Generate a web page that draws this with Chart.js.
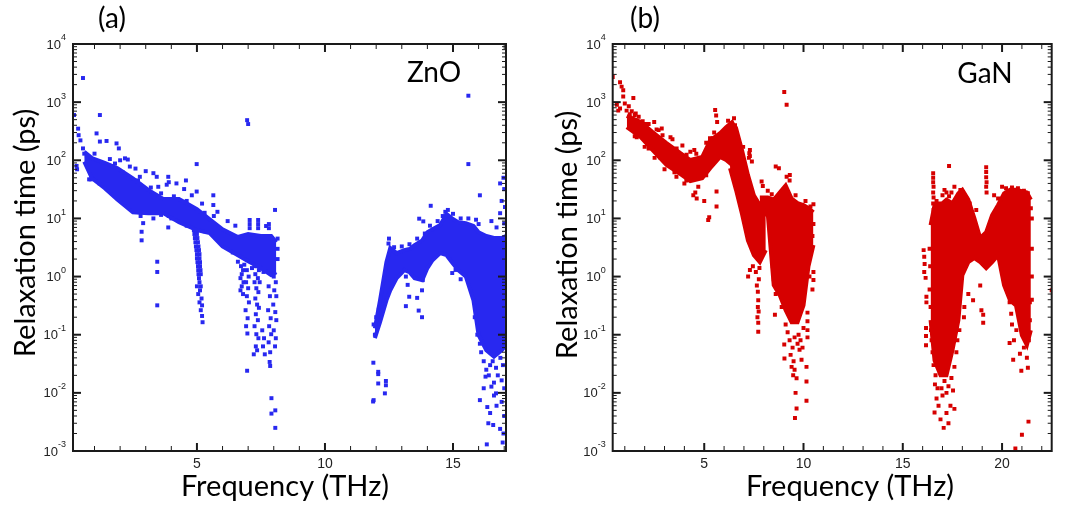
<!DOCTYPE html>
<html>
<head>
<meta charset="utf-8">
<script src="https://cdn.jsdelivr.net/npm/chart.js@4.4.1/dist/chart.umd.min.js"></script>
<style>
  html, body { margin: 0; padding: 0; background: #fff; }
  #wrap { position: relative; width: 1070px; height: 507px; overflow: hidden; background: #fff; }
  canvas { position: absolute; top: 0; }
</style>
</head>
<body>
<div id="wrap">
  <canvas id="chartA" width="535" height="507" style="left:0"></canvas>
  <canvas id="chartB" width="535" height="507" style="left:535px"></canvas>
</div>
<script>
// Axis ticks
const yTickExps = [-3, -2, -1, 0, 1, 2, 3, 4];
const znoXTicks = [5, 10, 15];
const ganXTicks = [5, 10, 15, 20];

// ---------- (a) ZnO ----------
// dense clouds: upper / lower envelope at the same frequencies
const znoBand1X = [0.6, 0.9, 1.4, 1.9, 2.5, 3.1, 3.7, 4.3, 5.0, 5.5, 6.0, 6.6, 7.0, 7.5, 7.9, 8.1];
const znoBand1Hi = [140, 109, 90, 73, 49, 31, 21.5, 21.5, 14.5, 9.7, 6.5, 4.8, 5.4, 5.0, 5.0, 3.9];
const znoBand1Lo = [95, 49, 33, 21, 12.8, 12.3, 12.3, 8.6, 6.3, 5.6, 3.3, 2.33, 1.84, 1.40, 1.06, 1.19];

const znoBand2X = [11.95, 12.15, 12.4, 12.55, 12.8, 13.1, 13.3, 13.5, 13.8, 14.0, 14.2, 14.5, 14.75, 14.95, 15.2, 15.5, 15.8, 16.0, 16.3, 16.6, 16.9, 17.07];
const znoBand2Hi = [0.129, 0.39, 1.77, 3.1, 2.53, 2.85, 2.98, 3.47, 4.2, 5.8, 6.5, 7.7, 11.9, 10.1, 8.6, 8.3, 7.4, 5.8, 5.0, 4.6, 4.6, 5.0];
const znoBand2Lo = [0.087, 0.164, 0.39, 0.58, 0.94, 1.29, 1.19, 0.94, 0.87, 1.40, 1.91, 2.53, 2.33, 1.77, 1.29, 1.01, 0.39, 0.098, 0.054, 0.042, 0.054, 0.066];

// single modes [THz, ps]
const znoLeftPts = [
  [0.2, 600], [0.36, 350], [0.38, 270], [0.45, 220], [0.55, 160], [0.32, 70], [0.3, 80], [0.55, 2600],
  [0.79, 47], [0.85, 47], [1.21, 600], [1.08, 290], [1.21, 210], [1.47, 215], [1.86, 195], [1.95, 160],
  [2.19, 108], [2.38, 78], [2.77, 52], [3.43, 52], [3.49, 35], [3.88, 52], [3.82, 38], [4.57, 45],
  [4.99, 86], [4.99, 29], [5.64, 25], [5.64, 17], [5.66, 11], [8.05, 14], [6.96, 490], [7.0, 420],
  [2.84, 5.9], [2.84, 4.2], [3.45, 1.8], [3.45, 1.2], [3.45, 0.32], [2.9, 8.3], [3.88, 7.0],
  [0.6, 130], [0.7, 120], [1.0, 130], [1.6, 105], [2.0, 100], [2.3, 103], [1.8, 88], [2.6, 72],
  [3.0, 65], [3.3, 60], [3.9, 42], [4.2, 40], [4.5, 32], [4.8, 25], [5.2, 18], [5.8, 13], [6.2, 9], [6.5, 7.5],
  [1.2, 40], [1.7, 28], [2.2, 20], [2.8, 11], [3.3, 10], [3.6, 11.5], [4.0, 10], [4.6, 7.5], [5.8, 4.5], [6.3, 3.0], [6.1, 3.8],
  [1.1, 95], [1.5, 80], [2.1, 62], [2.7, 45], [3.2, 34], [3.6, 27], [4.1, 24], [4.6, 20], [5.3, 12.5],
  [1.3, 45], [1.9, 25], [2.5, 16], [3.0, 13], [3.9, 11], [4.5, 8.5], [5.3, 6.0], [6.4, 2.6]
];
const znoBranchPts = [
  [4.85, 7.4], [4.95, 7.4], [4.88, 6.3], [4.98, 6.3], [4.9, 5.4], [5.0, 5.4], [4.92, 4.6], [5.02, 4.6],
  [4.94, 3.9], [5.04, 3.9], [4.96, 3.3], [5.06, 3.3], [4.98, 2.85], [5.08, 2.85], [5.0, 2.43], [5.1, 2.43],
  [5.0, 2.07], [5.1, 2.07], [5.02, 1.77], [5.12, 1.77], [5.04, 1.51], [5.12, 1.51], [5.05, 1.29], [5.14, 1.29],
  [5.06, 1.10], [5.15, 1.10], [5.08, 0.94], [5.1, 0.80], [5.0, 0.68], [5.15, 0.68], [5.12, 0.58], [5.05, 0.50],
  [5.18, 0.42], [5.1, 0.36], [5.2, 0.32], [5.15, 0.264], [5.2, 0.21], [5.22, 0.164]
];
const znoClusterPts = [
  [6.72, 1.51], [6.80, 1.29], [6.75, 1.10], [6.70, 0.94], [6.82, 0.80], [6.75, 0.68], [6.70, 0.58], [6.80, 0.50],
  [6.95, 1.29], [7.02, 1.0], [6.92, 0.80], [7.0, 0.63], [6.95, 0.46], [7.03, 0.36], [6.9, 0.264], [6.98, 0.192], [6.92, 0.14], [6.97, 0.105],
  [7.25, 1.51], [7.35, 1.51], [7.42, 1.29], [7.28, 1.10], [7.38, 0.94], [7.25, 0.80], [7.45, 0.80], [7.32, 0.63],
  [7.4, 0.54], [7.28, 0.42], [7.35, 0.33], [7.42, 0.29], [7.3, 0.225], [7.38, 0.178], [7.25, 0.14], [7.32, 0.102],
  [7.4, 0.087], [7.3, 0.063], [7.22, 0.046], [7.35, 0.054],
  [7.55, 0.119], [7.62, 0.087], [7.58, 0.063], [7.65, 0.046],
  [7.8, 0.68], [7.85, 0.46], [7.78, 0.264], [7.88, 0.192], [7.82, 0.14], [7.9, 0.102], [7.8, 0.074], [7.86, 0.05], [7.84, 0.034], [7.86, 0.029],
  [8.0, 1.0], [8.08, 0.8], [8.02, 0.58], [8.1, 0.46], [7.98, 0.33], [8.06, 0.245], [8.1, 0.178], [8.0, 0.119], [8.08, 0.087], [8.05, 0.063],
  [7.91, 0.0081], [7.91, 0.0044], [8.06, 0.0050], [8.06, 0.0025], [6.96, 0.024],
  [7.06, 9.4], [7.06, 8.0], [7.06, 6.8], [7.39, 9.4], [7.39, 8.0], [7.39, 6.8], [7.81, 8.0], [7.81, 6.8], [7.7, 7.4],
  [8.15, 4.5], [8.15, 3.0], [8.15, 2.0], [6.6, 1.8], [6.85, 1.6], [7.15, 1.4], [7.6, 1.2], [7.95, 1.3]
];
const znoRightPts = [
  [11.89, 0.033], [12.08, 0.023], [12.08, 0.021], [12.08, 0.0145], [12.38, 0.016], [12.38, 0.0135], [12.34, 0.0098], [11.9, 0.0075], [11.88, 0.0071],
  [11.9, 0.15], [11.95, 0.1], [12.0, 0.2], [12.1, 0.27], [12.2, 0.35], [12.3, 0.6], [12.48, 3.7], [12.5, 4.5],
  [12.7, 3.2], [13.0, 3.3], [13.3, 3.6], [13.6, 4.5], [13.9, 5.5], [14.1, 7.5], [14.4, 9.0], [14.6, 11], [14.7, 13],
  [14.8, 14], [15.0, 12], [15.3, 10], [15.6, 10], [15.9, 9.5], [16.0, 8], [15.7, 7],
  [13.16, 1.0], [13.23, 0.72], [13.29, 0.45], [13.16, 0.31], [13.6, 0.43], [13.66, 0.26], [13.79, 0.2], [13.79, 0.58],
  [13.82, 0.87], [14.97, 1.15], [15.48, 1.06], [15.1, 1.3], [15.3, 0.9],
  [15.6, 1290], [15.6, 86], [16.05, 25], [14.13, 16.5], [13.68, 9.9], [13.84, 8.9], [16.84, 40], [16.97, 50], [17.0, 32],
  [16.84, 12.3], [17.03, 15.7], [17.0, 8.2], [16.9, 20], [16.5, 9], [16.7, 7],
  [15.83, 0.36], [15.9, 0.264], [15.85, 0.2], [16.0, 0.15], [15.95, 0.1], [16.05, 0.07], [16.1, 0.05], [16.2, 0.035],
  [16.05, 0.0075], [16.34, 0.0057], [16.45, 0.0045], [16.38, 0.003], [16.57, 0.0028], [16.84, 0.0024], [16.32, 0.0013],
  [16.94, 0.0014], [16.97, 0.002], [16.5, 0.0128], [16.68, 0.0098], [16.9, 0.0164], [16.27, 0.019], [16.68, 0.027],
  [16.3, 0.025], [16.4, 0.02], [16.6, 0.015], [16.75, 0.02], [16.95, 0.03], [17.0, 0.012], [16.55, 0.035], [16.85, 0.04],
  [16.45, 0.03], [16.2, 0.012], [16.7, 0.006], [16.9, 0.007], [17.0, 0.004], [16.6, 0.009]
];

// ---------- (b) GaN ----------
const ganBand1X = [1.1, 1.8, 2.4, 3.1, 3.8, 4.3, 4.9, 5.3, 5.8, 6.1, 6.4, 6.6];
const ganBand1Hi = [580, 454, 305, 198, 133, 101, 114, 220, 294, 372, 454, 331];
const ganBand1Lo = [372, 251, 150, 83, 58, 44, 49, 73, 114, 101, 83, 56];

const ganBand2X = [6.3, 6.6, 6.9, 7.2, 7.5, 7.8, 8.1];
const ganBand2Hi = [404, 360, 150, 56, 25, 17, 15];
const ganBand2Lo = [73, 31, 12, 4.2, 2.33, 1.77, 2.85];

const ganBand3X = [7.8, 8.2, 8.5, 8.8, 9.1, 9.4, 9.7, 10.0, 10.25, 10.5];
const ganBand3Hi = [23, 23, 21, 28, 37, 22, 18.3, 17, 15, 12.8];
const ganBand3Lo = [11.4, 11.9, 0.71, 0.48, 0.264, 0.164, 0.164, 0.32, 1.5, 3.5];

const ganBand4X = [16.4, 16.6, 16.9, 17.2, 17.5, 17.8, 18.0, 18.3, 18.6, 18.9, 19.2, 19.5, 19.8, 20.1, 20.4, 20.7, 21.0, 21.25, 21.45];
const ganBand4Hi = [7.7, 17, 17, 21, 18.3, 27, 31, 21, 10.2, 4.6, 5.8, 11.4, 17, 27, 31, 31, 29.5, 28, 21];
const ganBand4Lo = [0.178, 0.036, 0.02, 0.02, 0.054, 0.178, 1.06, 1.77, 2.07, 1.77, 1.40, 1.77, 2.33, 0.71, 0.39, 0.32, 0.098, 0.066, 0.119];

const ganLeftPts = [
  [0.39, 2700], [0.76, 2200], [0.84, 1850], [0.92, 1600], [0.92, 1250], [1.43, 1180], [0.76, 780], [0.67, 715],
  [1.09, 715], [0.6, 900], [1.0, 950], [1.2, 850], [1.35, 700], [1.25, 620], [1.55, 640], [1.7, 560], [1.3, 520],
  [1.9, 470], [2.05, 420], [2.48, 454], [2.6, 340], [2.86, 352], [2.9, 270], [3.3, 250], [3.61, 160], [3.7, 135],
  [4.11, 124], [4.3, 140], [4.6, 130], [4.45, 25], [4.62, 22], [4.55, 28], [4.7, 35], [4.0, 40], [3.6, 52],
  [3.0, 70], [2.5, 110], [2.0, 170], [1.6, 250],
  [5.55, 730], [5.6, 590], [5.65, 454], [6.5, 530], [6.55, 400], [5.29, 240], [5.42, 240], [6.2, 480], [6.35, 420],
  [5.62, 29], [5.62, 16], [5.25, 10.5], [5.2, 9.4], [5.0, 20],
  [6.96, 170], [7.3, 150], [7.3, 118], [7.25, 110], [7.4, 95], [7.27, 132],
  [1.5, 600], [2.2, 420], [2.7, 330], [3.4, 230], [3.9, 180], [4.5, 150], [5.1, 200], [5.5, 300],
  [1.5, 260], [2.2, 160], [2.8, 110], [3.5, 62], [4.1, 45], [5.1, 55], [5.5, 95]
];
const ganMidPts = [
  [9.03, 1500], [9.15, 900], [8.6, 78], [9.15, 52], [10.5, 17.5], [7.89, 43], [7.95, 36], [8.76, 73], [9.31, 56],
  [9.3, 45], [8.2, 30], [8.4, 26], [9.6, 25], [10.1, 20], [10.35, 16],
  [7.21, 1.0], [7.72, 0.39], [7.72, 0.112], [7.65, 0.7], [7.7, 0.55], [7.75, 0.9], [7.6, 1.2], [7.78, 1.4],
  [7.7, 0.3], [7.74, 0.25], [7.68, 0.2], [7.72, 0.16], [7.3, 1.3], [7.45, 1.5],
  [8.56, 0.22], [8.6, 0.5], [8.9, 0.3], [9.03, 0.068], [9.04, 0.039], [9.1, 0.15], [9.2, 0.11], [9.3, 0.08],
  [9.35, 0.045], [9.45, 0.06], [9.48, 0.020], [9.55, 0.09], [9.6, 0.010], [9.65, 0.0178], [9.65, 0.0054],
  [9.57, 0.0037], [9.7, 0.07], [9.75, 0.1], [9.8, 0.055], [9.9, 0.037], [10.0, 0.13], [10.15, 0.0157],
  [10.15, 0.0073], [10.15, 0.028], [10.2, 0.09], [10.2, 0.12], [10.2, 0.17], [10.2, 0.24], [10.45, 0.6],
  [10.5, 0.87], [10.5, 1.2], [10.3, 1.0], [9.95, 0.06], [9.85, 0.08], [9.5, 0.035], [9.4, 0.028], [9.55, 0.025],
  [8.45, 3.0], [8.45, 1.5], [8.5, 0.9], [10.45, 5], [10.5, 8]
];
const ganRightPts = [
  [16.05, 2.85], [16.08, 2.2], [16.1, 1.65], [16.08, 1.2], [16.15, 0.95], [16.19, 0.45], [16.19, 0.36],
  [16.17, 0.13], [16.17, 0.095], [16.17, 0.066],
  [16.53, 60], [16.53, 50], [16.53, 42], [16.55, 35], [16.53, 28], [16.55, 23], [16.53, 18], [16.55, 14], [16.53, 11], [16.55, 9],
  [17.33, 80], [19.2, 76], [19.2, 63], [19.2, 51], [19.22, 42], [19.2, 35], [19.22, 28],
  [16.85, 18], [17.1, 31], [17.33, 24], [17.6, 35], [17.9, 31], [18.1, 25], [18.37, 18], [18.7, 14], [17.0, 25],
  [17.45, 28], [17.75, 22], [16.7, 20], [18.2, 22], [17.2, 28],
  [19.6, 25], [19.8, 22], [20.0, 35], [20.2, 33], [20.5, 34], [20.8, 33], [21.1, 30], [21.3, 27], [21.45, 15],
  [20.38, 0.36], [20.46, 0.23], [20.38, 0.072], [20.56, 0.037], [20.9, 0.047], [20.97, 0.024], [21.3, 0.027],
  [21.2, 0.093], [21.4, 0.178], [21.4, 0.36], [20.72, 0.12], [20.5, 0.15], [20.6, 0.08], [21.1, 0.06], [21.25, 0.04],
  [20.85, 0.2], [21.35, 0.08],
  [21.0, 0.0019], [21.33, 0.0032], [20.67, 0.0011], [22.5, 0.58],
  [16.6, 0.0046], [17.06, 0.0025], [17.3, 0.0030], [17.6, 0.0053], [17.53, 0.011], [16.7, 0.008], [16.8, 0.006],
  [16.9, 0.0035], [17.2, 0.0045], [17.4, 0.006], [16.75, 0.012], [17.0, 0.009], [17.3, 0.013], [17.45, 0.018],
  [16.65, 0.02], [17.6, 0.028], [16.55, 0.03], [16.5, 0.05], [16.45, 0.08], [16.42, 0.12], [17.7, 0.05],
  [17.75, 0.08], [17.85, 0.12], [16.62, 0.014], [17.1, 0.016], [16.95, 0.012], [17.2, 0.01],
  [18.54, 0.39], [18.96, 0.264], [19.05, 0.16], [19.05, 0.22], [18.3, 0.5], [18.1, 0.3], [18.08, 0.2], [18.9, 0.7],
  [16.35, 3.0], [16.38, 1.5], [16.35, 0.6], [16.4, 0.3], [21.5, 10], [21.5, 3], [21.5, 1], [21.5, 0.4],
  [18.05, 8], [18.3, 5], [18.6, 3.5], [19.4, 4], [19.7, 3.2]
];

const BLUE = 'rgb(40,40,240)';
const RED = 'rgb(214,0,0)';

const toXY = pts => pts.map(p => ({ x: p[0], y: p[1] }));
const edge = (xs, ys) => xs.map((v, i) => ({ x: v, y: ys[i] }));

// a dense cloud drawn as the area between its two envelopes
function bandSets(xs, hi, lo, color) {
  const base = { type: 'line', pointRadius: 0, borderWidth: 4, borderColor: color, backgroundColor: color, tension: 0 };
  return [
    { ...base, data: edge(xs, hi), fill: false },
    { ...base, data: edge(xs, lo), fill: '-1' }
  ];
}
function pointSet(pts, color) {
  return { type: 'scatter', data: toXY(pts), pointStyle: 'rect', pointRadius: 2.8, backgroundColor: color, borderWidth: 0 };
}

// frame, inward ticks, tick labels and texts
const decoPlugin = {
  id: 'deco',
  afterDraw(chart, args, o) {
    const { ctx, chartArea: a, scales: { x, y } } = chart;
    ctx.save();
    ctx.strokeStyle = '#1a1a1a';
    const tick = (x0, y0, x1, y1, w) => {
      ctx.lineWidth = w;
      ctx.beginPath(); ctx.moveTo(x0, y0); ctx.lineTo(x1, y1); ctx.stroke();
    };
    for (let v = Math.ceil(x.min); v <= x.max; v++) {
      const p = x.getPixelForValue(v);
      const major = o.xTicks.includes(v);
      const len = major ? 8 : 5, w = major ? 2 : 1;
      tick(p, a.bottom, p, a.bottom - len, w);
      tick(p, a.top, p, a.top + len, w);
    }
    yTickExps.forEach(e => {
      for (let m = 1; m < 10; m++) {
        const v = m * Math.pow(10, e);
        if (v > y.max * 1.001) break;
        const p = y.getPixelForValue(v);
        const len = m === 1 ? 8 : 4, w = m === 1 ? 2 : 1;
        tick(a.left, p, a.left + len, p, w);
        tick(a.right, p, a.right - len, p, w);
      }
    });
    ctx.lineWidth = 2;
    ctx.strokeRect(a.left, a.top, a.right - a.left, a.bottom - a.top);

    // x tick labels
    ctx.fillStyle = '#222';
    ctx.font = '14px "Liberation Sans", Arial, sans-serif';
    ctx.textAlign = 'center';
    ctx.textBaseline = 'top';
    o.xTicks.forEach(v => ctx.fillText(String(v), x.getPixelForValue(v), a.bottom + 6));

    // y tick labels: 10 with a raised exponent
    yTickExps.forEach(e => {
      const p = y.getPixelForValue(Math.pow(10, e));
      const right = a.left - 7;
      ctx.font = '9px "Liberation Sans", Arial, sans-serif';
      const exp = String(e);
      const we = ctx.measureText(exp).width;
      ctx.textAlign = 'left';
      ctx.textBaseline = 'middle';
      ctx.fillText(exp, right - we, p - 6);
      ctx.font = '13px "Liberation Sans", Arial, sans-serif';
      ctx.textAlign = 'right';
      ctx.fillText('10', right - we, p + 1);
    });

    // titles
    ctx.fillStyle = '#000';
    ctx.font = o.titleSize + 'px Lato, "Open Sans", sans-serif';
    ctx.textBaseline = 'alphabetic';
    ctx.textAlign = 'center';
    ctx.fillText('Frequency (THz)', o.xTitle[0], o.xTitle[1]);
    ctx.save();
    ctx.translate(o.yTitle[0], o.yTitle[1]);
    ctx.rotate(-Math.PI / 2);
    ctx.fillText('Relaxation time (ps)', 0, 0);
    ctx.restore();
    ctx.font = o.labelSize + 'px Lato, "Open Sans", sans-serif';
    ctx.fillText(o.panel, o.panelPos[0], o.panelPos[1]);
    ctx.fillText(o.material, o.materialPos[0], o.materialPos[1]);
    ctx.restore();
  }
};

function makeChart(id, datasets, xMin, xMax, pad, deco) {
  return new Chart(document.getElementById(id), {
    type: 'scatter',
    data: { datasets },
    options: {
      responsive: false,
      animation: false,
      events: [],
      layout: { padding: pad },
      plugins: { legend: { display: false }, tooltip: { enabled: false }, deco },
      scales: {
        x: { type: 'linear', min: xMin, max: xMax, display: false },
        y: { type: 'logarithmic', min: 1e-3, max: 1e4, display: false }
      }
    },
    plugins: [decoPlugin]
  });
}

makeChart('chartA', [
  ...bandSets(znoBand1X, znoBand1Hi, znoBand1Lo, BLUE),
  ...bandSets(znoBand2X, znoBand2Hi, znoBand2Lo, BLUE),
  pointSet(znoLeftPts, BLUE),
  pointSet(znoBranchPts, BLUE),
  pointSet(znoClusterPts, BLUE),
  pointSet(znoRightPts, BLUE)
], 0.16, 17.07, { left: 73, right: 29, top: 44, bottom: 56 }, {
  xTicks: znoXTicks, titleSize: 29, labelSize: 28,
  xTitle: [285, 496], yTitle: [35, 233],
  panel: '(a)', panelPos: [112, 28], material: 'ZnO', materialPos: [434, 82]
});

makeChart('chartB', [
  ...bandSets(ganBand1X, ganBand1Hi, ganBand1Lo, RED),
  ...bandSets(ganBand2X, ganBand2Hi, ganBand2Lo, RED),
  ...bandSets(ganBand3X, ganBand3Hi, ganBand3Lo, RED),
  ...bandSets(ganBand4X, ganBand4Hi, ganBand4Lo, RED),
  pointSet(ganLeftPts, RED),
  pointSet(ganMidPts, RED),
  pointSet(ganRightPts, RED)
], 0.39, 22.5, { left: 77.7, right: 18.3, top: 44, bottom: 56 }, {
  xTicks: ganXTicks, titleSize: 29, labelSize: 28,
  xTitle: [315, 496], yTitle: [42, 235],
  panel: '(b)', panelPos: [110, 28], material: 'GaN', materialPos: [450, 83]
});
</script>
</body>
</html>
